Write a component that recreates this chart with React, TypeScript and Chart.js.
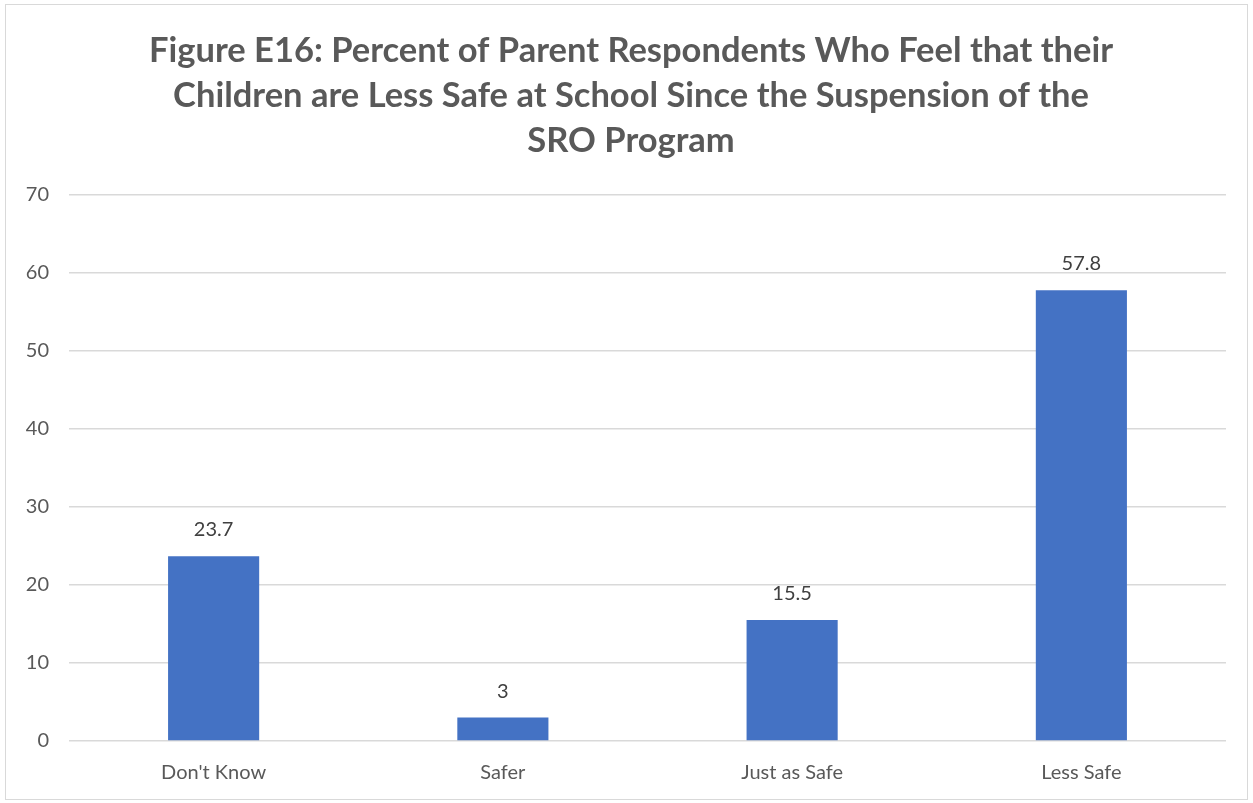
import React, { useEffect, useRef } from "react";
import { Chart, registerables } from "chart.js";

Chart.register(...registerables);

const categories = ["Don't Know", "Safer", "Just as Safe", "Less Safe"];
const values = [23.7, 3, 15.5, 57.8];
const titleLines = [
  "Figure E16: Percent of Parent Respondents Who Feel that their",
  "Children are Less Safe at School Since the Suspension of the",
  "SRO Program",
];

const valueLabels = {
  id: "valueLabels",
  afterDatasetsDraw(chart: any) {
    const ctx = chart.ctx;
    const meta = chart.getDatasetMeta(0);
    ctx.save();
    ctx.fillStyle = "#404040";
    ctx.font = "20px Lato";
    ctx.textAlign = "center";
    ctx.textBaseline = "alphabetic";
    meta.data.forEach((bar: any, i: number) => {
      ctx.fillText(String(values[i]), bar.x, bar.y - 20);
    });
    ctx.restore();
  },
};

const titleDrawer = {
  id: "titleDrawer",
  afterDraw(chart: any) {
    const ctx = chart.ctx;
    ctx.save();
    ctx.fillStyle = "#595959";
    ctx.font = "bold 34.5px Lato";
    ctx.textAlign = "center";
    ctx.textBaseline = "middle";
    titleLines.forEach((line, i) => {
      ctx.fillText(line, 625, 46 + i * 45);
    });
    ctx.restore();
  },
};

export default function App() {
  const ref = useRef<HTMLCanvasElement>(null);
  useEffect(() => {
    const chart = new Chart(ref.current!, {
      type: "bar",
      data: {
        labels: categories,
        datasets: [
          {
            data: values,
            backgroundColor: "#4472C4",
            barPercentage: 0.315,
            categoryPercentage: 1,
          },
        ],
      },
      options: {
        animation: false,
        responsive: false,
        layout: { padding: { left: 0, right: 21, top: 190, bottom: -6 } },
        plugins: {
          legend: { display: false },
          tooltip: { enabled: false },
          title: { display: false },
        },
        scales: {
          x: {
            grid: { display: false, drawTicks: false },
            border: { display: false },
            ticks: { color: "#595959", font: { family: "Lato", size: 20 }, padding: 20 },
          },
          y: {
            min: 0,
            max: 70,
            afterFit: (s: any) => {
              s.width = 63;
            },
            ticks: { stepSize: 10, color: "#595959", font: { family: "Lato", size: 20 }, padding: 20 },
            grid: { color: "#d9d9d9", lineWidth: 1.5, drawTicks: false },
            border: { display: false },
          },
        },
      },
      plugins: [valueLabels, titleDrawer],
    });
    return () => chart.destroy();
  }, []);
  return (
    <div
      style={{
        position: "fixed",
        left: 5,
        top: 4,
        width: 1241,
        height: 794,
        border: "1px solid #d9d9d9",
        background: "#fff",
      }}
    >
      <canvas ref={ref} width={1241} height={794} style={{ display: "block" }} />
    </div>
  );
}
